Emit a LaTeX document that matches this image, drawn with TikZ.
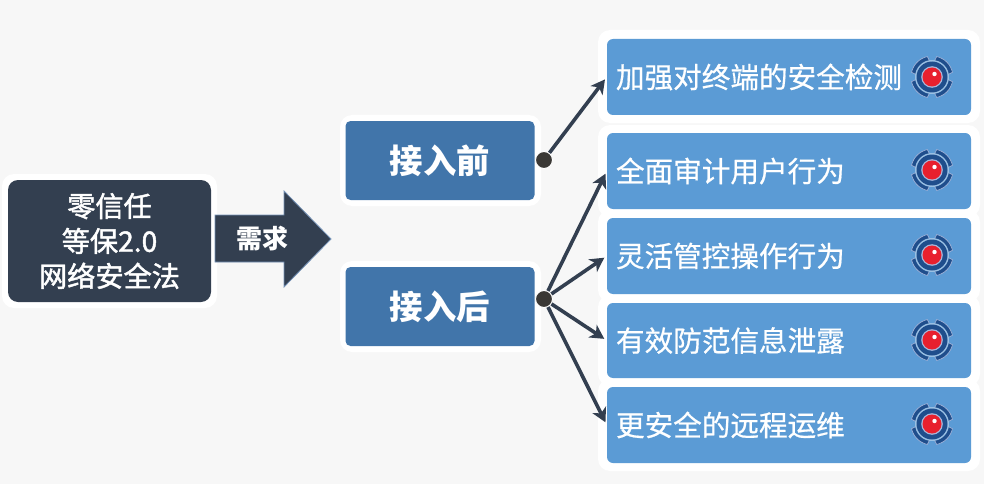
\documentclass[tikz,border=0pt]{standalone}
\usepackage{fontspec}
\setmainfont{Noto Sans CJK SC}
\newfontfamily\lightcjk[FakeBold=0.6]{Noto Sans CJK SC}
\newfontfamily\leftcjk[FakeBold=1.6]{Noto Sans CJK SC}
\usetikzlibrary{arrows.meta,calc}
\definecolor{bgc}{HTML}{F7F7F7}
\definecolor{navy}{HTML}{333F50}
\definecolor{midb}{HTML}{4175AA}
\definecolor{liteb}{HTML}{5B9BD5}
\definecolor{dotc}{HTML}{3A3835}
\definecolor{ringb}{HTML}{1F4E8C}
\definecolor{ringl}{HTML}{A9B8DC}
\definecolor{redc}{HTML}{E8202E}
\tikzset{
  x=1pt,y=-1pt,
  halo/.style={fill=white,rounded corners=12pt,draw=none},
  leftbox/.style={fill=navy,rounded corners=10pt,text=white,font=\leftcjk\fontsize{28.2}{35}\selectfont,align=center,minimum width=203pt,minimum height=122pt,inner sep=0pt},
  midbox/.style={fill=midb,rounded corners=5pt,text=white,font=\fontsize{33.4}{38}\bfseries\selectfont,minimum width=189pt,minimum height=79pt,inner sep=0pt},
  rightbox/.style={fill=liteb,rounded corners=6pt,text=white,font=\lightcjk\fontsize{28.6}{34}\selectfont,minimum width=364pt,inner sep=0pt,align=left,text width=346pt},
  hub/.style={circle,fill=dotc,draw=white,line width=1pt,minimum size=17pt,inner sep=0pt},
  conn/.style={draw=navy,line width=3.6pt,-{Stealth[length=14pt,width=15pt,inset=4pt]},shorten >=3pt},
  pics/target/.style={code={
    \foreach \a in {45,135,225,315}{
      \fill[ringb,draw=ringl,line width=.6pt] (\a-38:15pt) arc[start angle=\a-38,end angle=\a+38,radius=15pt] -- (\a+32:21pt) arc[start angle=\a+32,end angle=\a-32,radius=21pt] -- cycle;
    }
    \fill[bgc!40!liteb] (0,0) circle[radius=17pt];
    \fill[ringb] (0,0) circle[radius=15.5pt];
    \fill[ringl] (0,0) circle[radius=10.8pt];
    \fill[redc] (0,0) circle[radius=9.5pt];
    \fill[white] (2.5,-3) circle[radius=2.2pt];
  }}
}
\begin{document}
\begin{tikzpicture}
\path[use as bounding box,fill=bgc] (0,0) rectangle (984,484);
% white halos
\fill[halo] (2,174) rectangle (217,308);
\fill[halo] (340,115) rectangle (541,206);
\fill[halo] (340,261) rectangle (541,352);
\fill[halo] (598,30) rectangle (980,123);
\fill[halo] (598,125) rectangle (980,217);
\fill[halo] (598,210) rectangle (980,302);
\fill[halo] (598,295) rectangle (980,386);
\fill[halo] (598,379) rectangle (980,471);
% left box
\node[leftbox] (src) at (109.5,241) {零信任\\等保2.0\\网络安全法};
% block arrow
\draw[fill=navy,draw=ringb!60!bgc,line width=.8pt] (215,215) -- (284,215) -- (284,191) -- (331,239) -- (284,287) -- (284,262) -- (215,262) -- cycle;
\node[text=white,font=\fontsize{26}{30}\bfseries\selectfont,inner sep=0pt] (need) at (262,239) {需求};
% middle boxes
\node[midbox] (before) at (440,160.5) {接入前};
\node[midbox] (after) at (440,306.5) {接入后};
% right boxes
\node[rightbox,minimum height=76pt] (r1) at (789,77) {加强对终端的安全检测};
\node[rightbox,minimum height=76pt] (r2) at (789,171) {全面审计用户行为};
\node[rightbox,minimum height=76pt] (r3) at (789,256) {灵活管控操作行为};
\node[rightbox,minimum height=75pt] (r4) at (789,340.5) {有效防范信息泄露};
\node[rightbox,minimum height=76pt] (r5) at (789,425) {更安全的远程运维};
% icons
\foreach \y in {77,170,255,340,424} \pic at (932,\y) {target};
% hubs
\node[hub] (h1) at (544,160) {};
\node[hub] (h2) at (544,299) {};
% connectors
\draw[conn] (h1) -- (r1.west);
\draw[conn] (h2) -- (r2.west);
\draw[conn] (h2) -- (r3.west);
\draw[conn] (h2) -- (r4.west);
\draw[conn] (h2) -- (r5.west);
\end{tikzpicture}
\end{document}
